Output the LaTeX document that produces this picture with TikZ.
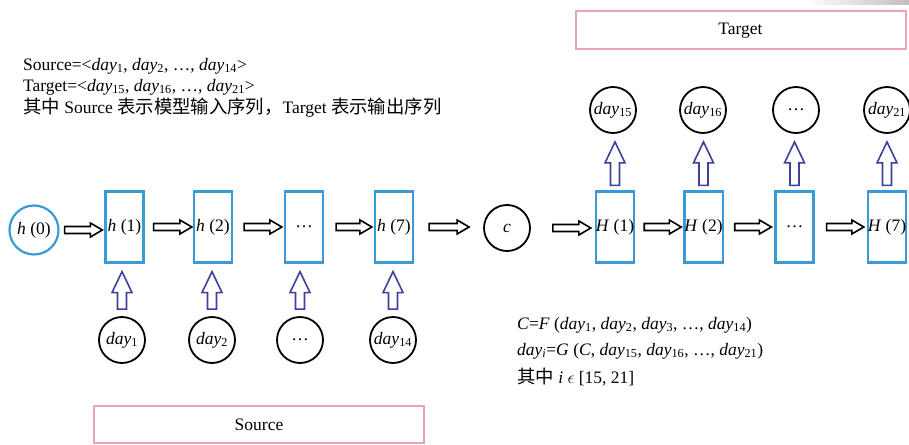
\documentclass[tikz,border=0pt]{standalone}
\usepackage{fontspec}
\setmainfont{Liberation Serif}
\newfontfamily\cjk[Scale=1.05]{Noto Sans CJK SC}
\usetikzlibrary{calc}
\definecolor{boxblue}{HTML}{3A9AD6}
\definecolor{arrblue}{HTML}{3F3F9E}
\definecolor{pinkline}{HTML}{EBA3BE}
\newcommand\dy[1]{\textit{day}\textsubscript{#1}}
% hollow right arrow: source, target, start gap, end gap
\newcommand\harrow[4]{%
  \draw[harr] let \p1=($(#1.east)+(#3,0pt)$), \p2=($(#2.west)+(-#4,0pt)$) in
    (\x1,\y1+3.5pt) -- (\x2-12pt,\y1+3.5pt) -- (\x2-12pt,\y1+7pt) -- (\x2,\y1)
    -- (\x2-12pt,\y1-7pt) -- (\x2-12pt,\y1-3.5pt) -- (\x1,\y1-3.5pt) -- cycle;}
% hollow up arrow: lower node, upper node, start gap, end gap
\newcommand\varrow[4]{%
  \draw[varr] let \p1=($(#1.north)+(0pt,#3)$), \p2=($(#2.south)+(0pt,-#4)$) in
    (\x1-4.5pt,\y1) -- (\x1-4.5pt,\y2-21pt) -- (\x1-10pt,\y2-21pt) -- (\x1,\y2)
    -- (\x1+10pt,\y2-21pt) -- (\x1+4.5pt,\y2-21pt) -- (\x1+4.5pt,\y1) -- cycle;}
\begin{document}
\begin{tikzpicture}[x=1pt,y=-1pt,font=\fontsize{17.5}{21}\selectfont,
  cell/.style={draw=boxblue,line width=2.2pt,minimum width=38pt,minimum height=71pt,inner sep=0pt},
  state/.style={circle,draw=boxblue,line width=2.2pt,minimum size=49pt,inner sep=0pt},
  obs/.style={circle,draw=black,line width=1.8pt,minimum size=46pt,inner sep=0pt},
  tag/.style={draw=pinkline,line width=2pt,inner sep=0pt},
  harr/.style={draw=black,line width=1.6pt,fill=white,line join=miter},
  varr/.style={draw=arrblue,line width=1.6pt,fill=white,line join=miter},
  note/.style={anchor=west,inner sep=0pt}]
\useasboundingbox (0,0) rectangle (909,444);

% description of the sequences
\node[note] (n1) at (23,66) {Source=<\dy{1}, \dy{2}, …, \dy{14}>};
\node[note] (n2) at (23,87) {Target=<\dy{15}, \dy{16}, …, \dy{21}>};
\node[note] (n3) at (23,108) {{\cjk 其中} Source {\cjk 表示模型输入序列，}Target {\cjk 表示输出序列}};

% encoder
\node[state] (h0) at (34,230) {\textit{h} (0)};
\node[cell] (h1) at (124.5,227) {\textit{h} (1)};
\node[cell] (h2) at (213,227) {\textit{h} (2)};
\node[cell] (h3) at (304,227) {…};
\node[cell] (h7) at (394,227) {\textit{h} (7)};
\node[obs] (c) at (507,228) {\textit{c}};

% decoder
\node[cell] (H1) at (615,227) {\textit{H} (1)};
\node[cell] (H2) at (703.5,227) {\textit{H} (2)};
\node[cell] (H3) at (794.5,227) {…};
\node[cell] (H7) at (887,227) {\textit{H} (7)};

% inputs and outputs
\node[obs] (x1) at (122,340) {\dy{1}};
\node[obs] (x2) at (212,340) {\dy{2}};
\node[obs] (x3) at (300,340) {…};
\node[obs] (x14) at (393,340) {\dy{14}};
\node[obs] (y15) at (613,110) {\dy{15}};
\node[obs] (y16) at (703,110) {\dy{16}};
\node[obs] (y17) at (796,110) {…};
\node[obs] (y21) at (887,110) {\dy{21}};

% sequence labels
\node[tag,minimum width=330pt,minimum height=38pt] (tgt) at (740.5,30.5) {Target};
\node[tag,minimum width=330pt,minimum height=37pt] (src) at (259,424.5) {Source};

% formulas
\node[note] (f1) at (517,325) {\textit{C}=\textit{F} (\dy{1}, \dy{2}, \dy{3}, …, \dy{14})};
\node[note] (f2) at (517,351) {\textit{day\textsubscript{i}}=\textit{G} (\textit{C}, \dy{15}, \dy{16}, …, \dy{21})};
\node[note] (f3) at (517,377) {{\cjk 其中} \textit{i} $\epsilon$ [15, 21]};

% horizontal state transitions
\harrow{h0}{h1}{5pt}{2pt}
\harrow{h1}{h2}{9pt}{1pt}
\harrow{h2}{h3}{11pt}{2pt}
\harrow{h3}{h7}{12pt}{2pt}
\harrow{h7}{c}{15pt}{14pt}
\harrow{c}{H1}{22pt}{4pt}
\harrow{H1}{H2}{9pt}{2pt}
\harrow{H2}{H3}{11pt}{3pt}
\harrow{H3}{H7}{12pt}{3pt}

% inputs into encoder cells
\varrow{x1}{h1}{7pt}{8pt}
\varrow{x2}{h2}{7pt}{8pt}
\varrow{x3}{h3}{7pt}{8pt}
\varrow{x14}{h7}{7pt}{8pt}

% decoder cells to outputs
\varrow{H1}{y15}{5pt}{8pt}
\varrow{H2}{y16}{5pt}{8pt}
\varrow{H3}{y17}{5pt}{8pt}
\varrow{H7}{y21}{5pt}{8pt}

% faint smudge along the top edge
\shade[left color=white,right color=gray!50] (805,0) rectangle (909,5);
\end{tikzpicture}
\end{document}
